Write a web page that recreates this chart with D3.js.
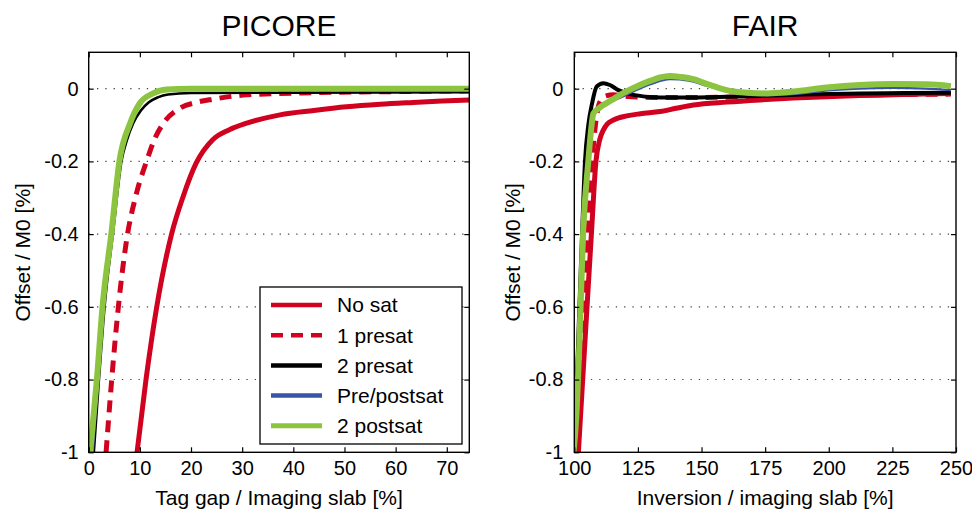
<!DOCTYPE html>
<html><head><meta charset="utf-8">
<script src="https://cdn.jsdelivr.net/npm/d3@7/dist/d3.min.js"></script>
<style>
body{margin:0;background:#fff}
svg{display:block}
text{font-family:"Liberation Sans",Arial,Helvetica,sans-serif;fill:#000}
</style>
</head><body>
<svg id="chart" width="972" height="516"></svg>
<script>
// ---- data ----
const panelTitles = ["PICORE", "FAIR"];
const xLabels = ["Tag gap / Imaging slab [%]", "Inversion / imaging slab [%]"];
const yLabel = "Offset / M0 [%]";
const seriesNames = ["No sat", "1 presat", "2 presat", "Pre/postsat", "2 postsat"];
const seriesColors = ["#d0021f", "#d0021f", "#000000", "#3a55a8", "#8cc43f"];
const picoreXTicks = [0, 10, 20, 30, 40, 50, 60, 70];
const fairXTicks = [100, 125, 150, 175, 200, 225, 250];
const yTicks = [0, -0.2, -0.4, -0.6, -0.8, -1];

const picoreNoSat = [[9.45,-1.0],[11.2,-0.8],[13.3,-0.6],[16.2,-0.4],[18.5,-0.295],[21.0,-0.205],[24.3,-0.14],[27.5,-0.113],[30.9,-0.095],[37.4,-0.072],[44,-0.06],[50.4,-0.05],[57,-0.043],[63.4,-0.038],[69,-0.034],[74.4,-0.031]];
const picore1Presat = [[3.4,-1.0],[4.5,-0.8],[5.8,-0.6],[7.4,-0.417],[9.3,-0.29],[11.3,-0.2],[13,-0.135],[14.6,-0.095],[17.8,-0.054],[21,-0.038],[24.3,-0.029],[30.9,-0.017],[43.9,-0.011],[60,-0.008],[74.4,-0.006]];
const picore2Presat = [[1.0,-1.0],[2.0,-0.8],[3.1,-0.6],[4.8,-0.39],[6.4,-0.2],[7.5,-0.14],[8.7,-0.095],[10.2,-0.06],[11.7,-0.038],[13.5,-0.024],[15.5,-0.016],[20,-0.012],[40,-0.011],[74.4,-0.01]];
const picorePrePost = [[0.8,-1.0],[1.8,-0.8],[2.9,-0.6],[4.6,-0.39],[6.2,-0.2],[8.2,-0.1],[10,-0.045],[12.5,-0.015],[15,-0.004],[20,0],[74.4,0]];
const picore2Postsat = [[0.3,-1.0],[1.6,-0.8],[2.7,-0.6],[4.5,-0.39],[6.0,-0.2],[8.1,-0.095],[10,-0.04],[12.6,-0.013],[15.2,-0.002],[20,0],[74.4,0]];

const fairNoSat = [[101.6,-1.0],[103.3,-0.8],[105,-0.6],[106.8,-0.39],[108.5,-0.2],[110,-0.14],[111.4,-0.114],[113,-0.097],[115.4,-0.086],[120.6,-0.075],[126,-0.069],[133.7,-0.063],[140,-0.054],[146.8,-0.045],[160,-0.037],[173,-0.031],[186,-0.026],[199.2,-0.022],[212,-0.019],[225.4,-0.017],[237,-0.015],[248,-0.013]];
const fair1Presat = [[101,-1.0],[102.5,-0.8],[104,-0.6],[105.5,-0.39],[107,-0.2],[108.3,-0.1],[110.1,-0.036],[112.5,-0.02],[115.4,-0.017],[120,-0.021],[130,-0.024],[150,-0.024],[175,-0.021],[200,-0.018],[225,-0.016],[248,-0.015]];
const fair2Presat = [[99.9,-1.0],[101,-0.8],[102,-0.6],[103.1,-0.39],[104.2,-0.2],[105.5,-0.1],[107,-0.04],[108.8,0.006],[111.4,0.015],[114,0.01],[117.3,-0.004],[123.2,-0.017],[133.7,-0.024],[146.8,-0.024],[160,-0.022],[173,-0.02],[190,-0.016],[212.3,-0.013],[230,-0.012],[248,-0.011]];
const fairPrePost = [[99.7,-1.0],[101.2,-0.8],[102.3,-0.6],[103.4,-0.39],[105,-0.2],[106.5,-0.1],[108.5,-0.06],[111,-0.045],[114,-0.036],[118,-0.025],[124,-0.005],[130,0.012],[137.6,0.026],[145,0.022],[152,0.008],[160,-0.008],[168,-0.016],[176,-0.018],[186,-0.015],[200,-0.005],[212,0.0],[225,0.002],[238,0.0],[248,-0.004]];
const fair2Postsat = [[99.7,-1.0],[100.8,-0.9],[102,-0.7],[103.5,-0.39],[105.5,-0.2],[106.5,-0.12],[107.5,-0.068],[109.5,-0.055],[111.4,-0.045],[115,-0.03],[118,-0.017],[124.5,0.006],[130,0.022],[133.7,0.031],[137.6,0.035],[142,0.032],[146.8,0.026],[152,0.013],[157.3,0.001],[162,-0.007],[167.8,-0.011],[175.6,-0.013],[186,-0.008],[199.2,0.003],[212.3,0.01],[225.4,0.013],[238.5,0.012],[248,0.007]];

// ---- layout ----
const svg = d3.select("#chart");
const plotTop = 52.3, plotBottom = 452.3;
const panels = [
  {title: panelTitles[0], xl: xLabels[0], left: 88.7, right: 469.3, domain: [0, 74.4], ticks: picoreXTicks,
   series: [picoreNoSat, picore1Presat, picore2Presat, picorePrePost, picore2Postsat],
   widths: [5, 5, 2.6, 2.2, 6], ylabX: 23, legend: true},
  {title: panelTitles[1], xl: xLabels[1], left: 574.3, right: 956, domain: [100, 250], ticks: fairXTicks,
   series: [fairNoSat, fair1Presat, fair2Presat, fairPrePost, fair2Postsat],
   widths: [5, 5, 4, 2.2, 6], ylabX: 513, legend: false}
];
const dashes = [null, "12,8", null, null, null];

panels.forEach((p, pi) => {
  const x = d3.scaleLinear().domain(p.domain).range([p.left, p.right]);
  const y = d3.scaleLinear().domain([-1, 0.1]).range([plotBottom, plotTop]);
  const g = svg.append("g");

  // grid
  g.selectAll(".grid").data(yTicks.filter(v => v > -1)).enter().append("line")
    .attr("x1", p.left).attr("x2", p.right)
    .attr("y1", d => y(d)).attr("y2", d => y(d))
    .attr("stroke", "#444").attr("stroke-width", 1.1).attr("stroke-dasharray", "1.3,7");

  // clip
  const cid = "clip" + pi;
  svg.append("clipPath").attr("id", cid).append("rect")
    .attr("x", p.left).attr("y", plotTop).attr("width", p.right - p.left).attr("height", plotBottom - plotTop);

  const line = d3.line().x(d => x(d[0])).y(d => y(d[1])).curve(d3.curveMonotoneX);
  p.series.forEach((s, i) => {
    g.append("path").attr("d", line(s)).attr("clip-path", `url(#${cid})`)
      .attr("fill", "none").attr("stroke", seriesColors[i]).attr("stroke-width", p.widths[i])
      .attr("stroke-linejoin", "round")
      .attr("stroke-dasharray", dashes[i]);
  });

  // axes
  const fmt = d => String(d);
  const ax = g.append("g").attr("transform", `translate(0,${plotBottom})`)
    .call(d3.axisBottom(x).tickValues(p.ticks).tickSize(-5).tickPadding(8.5).tickFormat(fmt));
  const axT = g.append("g").attr("transform", `translate(0,${plotTop})`)
    .call(d3.axisTop(x).tickValues(p.ticks).tickSize(-5).tickFormat(""));
  const ay = g.append("g").attr("transform", `translate(${p.left},0)`)
    .call(d3.axisLeft(y).tickValues(yTicks).tickSize(-5).tickPadding(pi === 0 ? 10 : 11).tickFormat(fmt));
  const ayR = g.append("g").attr("transform", `translate(${p.right},0)`)
    .call(d3.axisRight(y).tickValues(yTicks).tickSize(-5).tickFormat(""));
  [ax, axT, ay, ayR].forEach(a => {
    a.select(".domain").remove();
    a.selectAll("line").attr("stroke", "#000").attr("stroke-width", 1.2);
    a.selectAll("text").attr("font-size", 20).attr("font-family", null);
  });

  // frame
  g.append("rect").attr("x", p.left).attr("y", plotTop).attr("width", p.right - p.left).attr("height", plotBottom - plotTop)
    .attr("fill", "none").attr("stroke", "#000").attr("stroke-width", 1.4);

  // titles / labels
  g.append("text").attr("x", (p.left + p.right) / 2).attr("y", 36).attr("text-anchor", "middle")
    .attr("font-size", 30).text(p.title);
  g.append("text").attr("x", (p.left + p.right) / 2).attr("y", 505).attr("text-anchor", "middle")
    .attr("font-size", 21).text(p.xl);
  g.append("text").attr("transform", `translate(${p.ylabX},${(plotTop + plotBottom) / 2}) rotate(-90)`)
    .attr("text-anchor", "middle").attr("dy", "0.35em").attr("font-size", 21).text(yLabel);

  if (p.legend) {
    const lg = g.append("g");
    lg.append("rect").attr("x", 260).attr("y", 287).attr("width", 202).attr("height", 157)
      .attr("fill", "#fff").attr("stroke", "#000").attr("stroke-width", 1.3);
    seriesNames.forEach((n, i) => {
      const yy = 305 + i * 30.2;
      lg.append("line").attr("x1", 271).attr("x2", 322).attr("y1", yy).attr("y2", yy)
        .attr("stroke", seriesColors[i]).attr("stroke-width", i === 4 ? 5 : 4.5)
        .attr("stroke-dasharray", dashes[i]);
      lg.append("text").attr("x", 337).attr("y", yy).attr("dy", "0.35em").attr("font-size", 21).text(n);
    });
  }
});
</script>
</body></html>
